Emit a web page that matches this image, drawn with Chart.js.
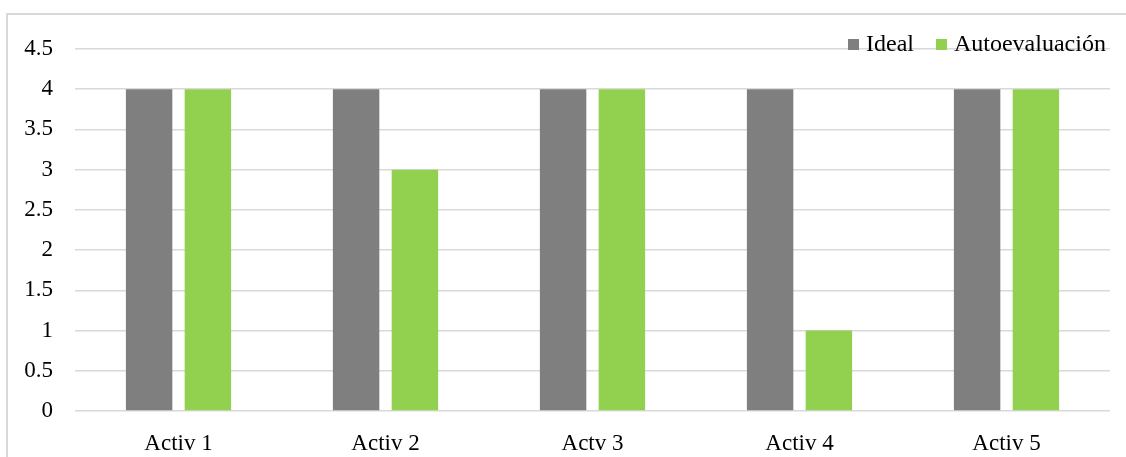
<!DOCTYPE html>
<html>
<head>
<meta charset="utf-8">
<script src="https://cdn.jsdelivr.net/npm/chart.js@4/dist/chart.umd.min.js"></script>
<style>
  html, body { margin: 0; padding: 0; background: #fff; }
  #wrap { position: relative; width: 1126px; height: 457px; overflow: hidden; }
  #frame { position: absolute; left: 6px; top: 13px; width: 1200px; height: 500px;
           border-left: 2px solid #d9d9d9; border-top: 2px solid #d9d9d9; pointer-events: none; }
  #c { position: absolute; left: 0; top: 0; }
</style>
</head>
<body>
<div id="wrap">
  <div id="frame"></div>
  <canvas id="c" width="1126" height="457"></canvas>
</div>
<script>
// Activities and scores
const categories = ['Activ 1', 'Activ 2', 'Actv 3', 'Activ 4', 'Activ 5'];
const seriesNames = ['Ideal', 'Autoevaluación'];
const idealValues = [4, 4, 4, 4, 4];
const autoevaluacionValues = [4, 3, 4, 1, 4];
const yTickValues = [0, 0.5, 1, 1.5, 2, 2.5, 3, 3.5, 4, 4.5];

const serif = "'Liberation Serif', 'Times New Roman', serif";

// Legend drawn in the top-right corner, overlapping the plot area
const cornerLegend = {
  id: 'cornerLegend',
  afterDraw(chart) {
    const ctx = chart.ctx;
    ctx.save();
    ctx.font = '24px ' + serif;
    ctx.textBaseline = 'alphabetic';
    ctx.textAlign = 'left';
    let x = 848;
    const boxSize = 11, boxTop = 39, baseline = 50.5, textGap = 7, itemGap = 22;
    chart.data.datasets.forEach(ds => {
      ctx.fillStyle = ds.backgroundColor;
      ctx.fillRect(x, boxTop, boxSize, boxSize);
      const tx = x + boxSize + textGap;
      ctx.fillStyle = '#000';
      ctx.fillText(ds.label, tx, baseline);
      x = tx + ctx.measureText(ds.label).width + itemGap;
    });
    ctx.restore();
  }
};

new Chart(document.getElementById('c'), {
  type: 'bar',
  data: {
    labels: categories,
    datasets: [
      { label: seriesNames[0], data: idealValues, backgroundColor: '#7f7f7f', borderWidth: 0 },
      { label: seriesNames[1], data: autoevaluacionValues, backgroundColor: '#92d050', borderWidth: 0 }
    ]
  },
  options: {
    responsive: false,
    animation: false,
    devicePixelRatio: 1,
    layout: { padding: { left: 0, right: 16, top: 49, bottom: 0 } },
    datasets: { bar: { categoryPercentage: 0.568, barPercentage: 0.79 } },
    plugins: {
      tooltip: { enabled: false },
      legend: { display: false }
    },
    scales: {
      x: {
        grid: { display: false },
        border: { display: false },
        ticks: { color: '#000', padding: 11, maxRotation: 0, font: { family: serif, size: 23 } },
        afterFit(s) { s.height = 46; }
      },
      y: {
        min: 0,
        max: 4.5,
        border: { display: false },
        grid: { color: '#d9d9d9', lineWidth: 1.5, drawTicks: false },
        ticks: {
          color: '#000',
          padding: 22,
          font: { family: serif, size: 23 },
          callback: v => String(v)
        },
        afterBuildTicks(s) { s.ticks = yTickValues.map(v => ({ value: v })); },
        afterFit(s) { s.width = 75; }
      }
    }
  },
  plugins: [cornerLegend]
});
</script>
</body>
</html>
